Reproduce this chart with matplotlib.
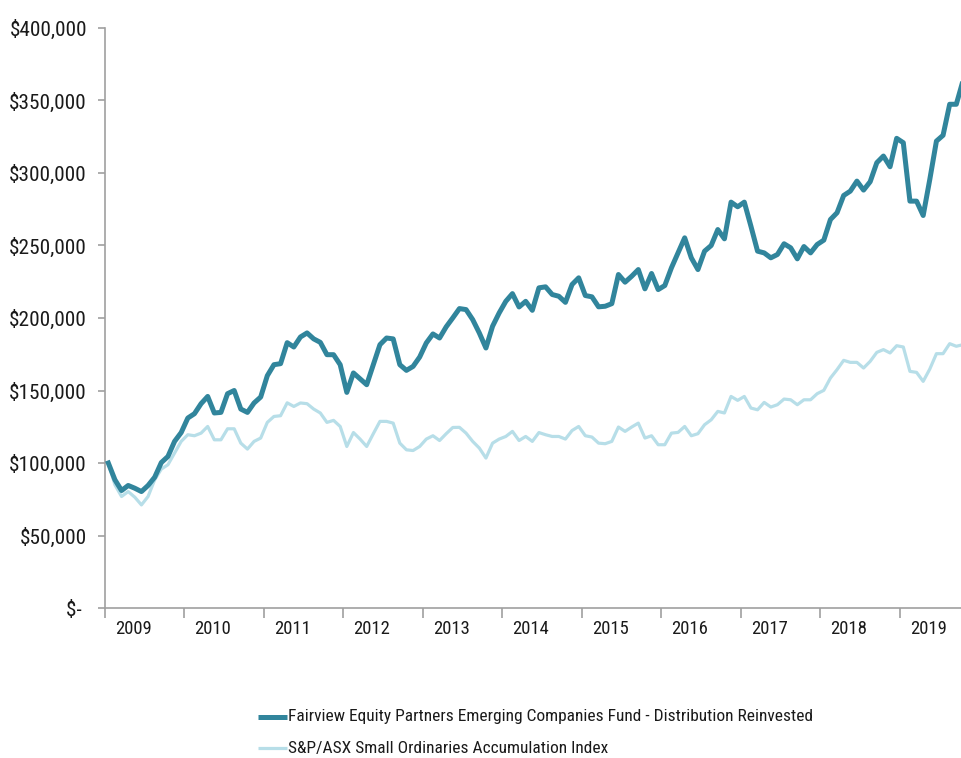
import matplotlib
matplotlib.use("Agg")
import matplotlib.pyplot as plt
from matplotlib import font_manager as fm
import numpy as np

# ---------------- data (values in $000, monthly) ----------------
years = ["2009", "2010", "2011", "2012", "2013", "2014", "2015", "2016", "2017", "2018", "2019"]

fund = [100.0, 88.4, 81.0, 84.5, 82.6, 80.3, 84.5, 90.2, 100.3, 104.5,
        114.9, 121.0, 131.0, 134.0, 140.9, 145.9, 134.5, 134.9, 147.8, 150.0,
        137.2, 134.9, 141.4, 145.5, 160.2, 167.8, 168.5, 183.0, 180.0, 186.9,
        189.7, 185.6, 183.2, 174.7, 174.7, 167.8, 148.7, 162.1, 158.0, 154.0,
        167.8, 181.6, 186.2, 185.6, 167.8, 163.9, 166.6, 173.1, 182.8, 189.0,
        186.2, 193.9, 200.1, 206.5, 205.8, 198.9, 189.7, 179.3, 194.3, 203.5,
        211.5, 216.8, 207.6, 211.5, 205.3, 220.8, 221.5, 216.2, 215.0, 210.8,
        223.1, 227.7, 215.5, 214.6, 207.7, 208.1, 209.9, 230.0, 224.7, 228.8,
        233.4, 220.1, 230.7, 219.6, 222.4, 234.6, 244.9, 255.3, 241.5, 233.4,
        246.1, 250.0, 261.0, 254.6, 279.9, 276.7, 279.9, 263.3, 246.1, 244.9,
        241.5, 243.8, 251.2, 248.4, 240.8, 249.3, 244.9, 250.7, 253.7, 267.9,
        272.6, 284.5, 287.5, 294.4, 288.2, 294.0, 307.1, 311.7, 304.3, 323.9,
        320.9, 280.6, 280.6, 270.7, 295.6, 322.0, 326.0, 347.4, 347.4, 363.5]

index = [100.0, 84.9, 76.9, 80.3, 76.4, 71.1, 76.9, 88.4, 95.8, 98.8,
         106.8, 114.9, 119.5, 118.8, 120.6, 125.2, 116.0, 116.0, 123.6, 123.6,
         113.7, 109.6, 114.9, 117.2, 128.0, 132.1, 132.6, 141.5, 139.0, 141.4,
         140.9, 137.2, 134.5, 128.0, 129.4, 125.2, 111.4, 121.0, 116.5, 111.4,
         120.2, 128.7, 128.7, 127.5, 113.7, 109.1, 108.6, 111.4, 116.5, 118.8,
         115.5, 120.2, 124.5, 124.6, 120.6, 114.9, 110.3, 103.4, 113.7, 116.5,
         118.3, 121.8, 115.5, 118.3, 114.9, 121.0, 119.5, 118.3, 118.3, 116.5,
         122.4, 125.2, 118.8, 117.9, 113.7, 113.3, 114.9, 124.8, 121.8, 124.8,
         127.5, 117.2, 118.8, 112.6, 112.6, 120.6, 121.1, 125.2, 118.8, 120.2,
         126.4, 129.8, 135.6, 134.5, 145.9, 143.2, 145.9, 137.9, 136.7, 141.8,
         138.6, 140.2, 144.1, 143.6, 140.2, 143.6, 143.6, 147.8, 150.1, 158.6,
         164.4, 170.8, 169.4, 169.4, 165.5, 170.1, 176.3, 178.2, 175.9, 180.9,
         180.0, 163.2, 162.5, 156.3, 164.8, 175.4, 175.4, 182.3, 180.5, 181.6]

y_ticks = [0, 50000, 100000, 150000, 200000, 250000, 300000, 350000, 400000]
y_labels = ["$- ", "$50,000", "$100,000", "$150,000", "$200,000",
            "$250,000", "$300,000", "$350,000", "$400,000"]

fund_name = "Fairview Equity Partners Emerging Companies Fund - Distribution Reinvested"
index_name = "S&P/ASX Small Ordinaries Accumulation Index"

# ---------------- styling ----------------
names = {f.name for f in fm.fontManager.ttflist}
family = "DejaVu Sans"
for cand in ["Liberation Sans Narrow", "Roboto Condensed", "Open Sans Condensed",
             "Liberation Sans", "Roboto"]:
    if cand in names:
        family = cand
        break
plt.rcParams["font.family"] = [family, "DejaVu Sans"]

FUND_C = "#31859C"
INDEX_C = "#B7DEE8"
AXIS_C = "#A0A0A0"
TEXT_C = "#1a1a1a"

W, H = 962, 758
fig = plt.figure(figsize=(W / 100, H / 100), dpi=100)
renderer = fig.canvas.get_renderer()


def fit_size(s, target_px, base=14.0):
    t = fig.text(0, 0, s, fontsize=base)
    w = t.get_window_extent(renderer).width
    t.remove()
    return base * target_px / w


ysize = fit_size("$400,000", 78)
xsize = fit_size("2009", 37)
lsize = fit_size(fund_name, 527)

ax = fig.add_axes([105 / W, (H - 608) / H, (962 - 105) / W, (608 - 28) / H])

x = np.arange(len(fund))
ax.plot(x, np.array(index) * 1000, color=INDEX_C, lw=2.3, solid_joinstyle="round", zorder=2)
ax.plot(x, np.array(fund) * 1000, color=FUND_C, lw=3.6, solid_joinstyle="round", zorder=3)

ax.set_xlim(-0.5, 128.86)
ax.set_ylim(0, 400000)

for s in ["top", "right"]:
    ax.spines[s].set_visible(False)
for s in ["left", "bottom"]:
    ax.spines[s].set_color(AXIS_C)
    ax.spines[s].set_linewidth(1.2)

ax.set_yticks(y_ticks)
ax.set_yticklabels(y_labels)
ax.tick_params(axis="y", length=5, width=1.2, color=AXIS_C, pad=8,
               labelsize=ysize, labelcolor=TEXT_C)

major = [12 * m - 0.5 for m in range(len(years))]
ax.set_xticks(major)
ax.set_xticklabels([])
ax.tick_params(axis="x", which="major", length=7, width=1.2, color=AXIS_C)
minor = [12 * m + 3.8 for m in range(len(years))]
ax.set_xticks(minor, minor=True)
ax.set_xticklabels(years, minor=True)
ax.tick_params(axis="x", which="minor", length=0, pad=9, labelsize=xsize, labelcolor=TEXT_C)

# legend (manual, stacked)
fig.add_artist(plt.Line2D([258 / W, 287 / W], [1 - 717 / H, 1 - 717 / H],
                          color=FUND_C, lw=3.6, solid_capstyle="butt"))
fig.text(288 / W, 1 - 717 / H, fund_name, ha="left", va="center",
         fontsize=lsize, color=TEXT_C)
fig.add_artist(plt.Line2D([258 / W, 287 / W], [1 - 748 / H, 1 - 748 / H],
                          color=INDEX_C, lw=2.3, solid_capstyle="butt"))
fig.text(288 / W, 1 - 748 / H, index_name, ha="left", va="center",
         fontsize=lsize, color=TEXT_C)

fig.savefig("out.png", dpi=100, facecolor="white")
